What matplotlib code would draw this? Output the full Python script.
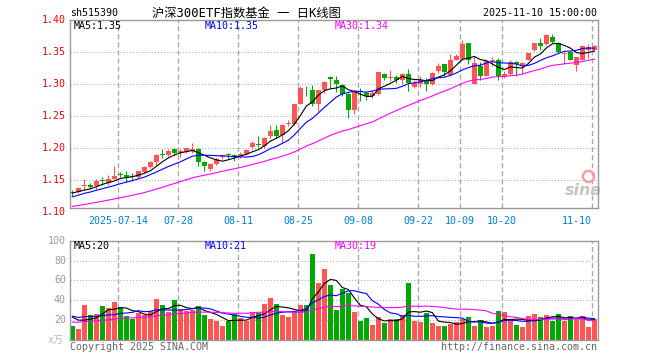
import matplotlib
matplotlib.use("Agg")
import matplotlib.pyplot as plt
import numpy as np

# ---------------------------------------------------------------------------
# Data
# ---------------------------------------------------------------------------

date_labels = ["2025-07-14", "07-28", "08-11", "08-25", "09-08",
               "09-22", "10-09", "10-20", "11-10"]
date_index = [8, 18, 28, 38, 48, 58, 65, 72, 87]

opens = [1.1300, 1.1304, 1.1398, 1.1424, 1.1398, 1.1480, 1.1450, 1.1513, 1.1581, 1.1566,
         1.1550, 1.1545, 1.1623, 1.1702, 1.1775, 1.1900, 1.1880, 1.1984, 1.1922, 1.1937,
         1.1948, 1.1984, 1.1775, 1.1670, 1.1749, 1.1859, 1.1890, 1.1895, 1.1869, 1.1911,
         1.2010, 1.2058, 1.2026, 1.2183, 1.2288, 1.2209, 1.2372, 1.2367, 1.2691, 1.2942,
         1.2901, 1.2681, 1.2916, 1.3115, 1.3073, 1.2984, 1.2848, 1.2602, 1.2885, 1.2864,
         1.2812, 1.2838, 1.3167, 1.3094, 1.3110, 1.3063, 1.3162, 1.2953, 1.3005, 1.3073,
         1.2995, 1.3204, 1.3309, 1.3141, 1.3387, 1.3390, 1.3639, 1.3005, 1.3283, 1.3136,
         1.3367, 1.3387, 1.3110, 1.3152, 1.3351, 1.3283, 1.3387, 1.3529, 1.3649, 1.3634,
         1.3743, 1.3649, 1.3466, 1.3508, 1.3298, 1.3387, 1.3544, 1.3544]
highs = [1.1330, 1.1382, 1.1513, 1.1440, 1.1503, 1.1545, 1.1581, 1.1712, 1.1618, 1.1634,
         1.1607, 1.1634, 1.1712, 1.1791, 1.1906, 1.1984, 1.1984, 1.2000, 1.1974, 1.2000,
         1.2079, 1.2000, 1.1791, 1.1764, 1.1843, 1.1895, 1.1922, 1.1911, 1.1937, 1.1984,
         1.2105, 1.2183, 1.2168, 1.2356, 1.2356, 1.2377, 1.2445, 1.2681, 1.2969, 1.2969,
         1.2984, 1.2916, 1.3047, 1.3126, 1.3126, 1.3005, 1.2864, 1.2901, 1.2942, 1.2890,
         1.2916, 1.3188, 1.3178, 1.3215, 1.3141, 1.3178, 1.3246, 1.3073, 1.3126, 1.3099,
         1.3188, 1.3335, 1.3319, 1.3476, 1.3466, 1.3686, 1.3650, 1.3440, 1.3351, 1.3372,
         1.3429, 1.3414, 1.3204, 1.3387, 1.3361, 1.3351, 1.3492, 1.3649, 1.3728, 1.3790,
         1.3790, 1.3665, 1.3497, 1.3518, 1.3424, 1.3623, 1.3634, 1.3612]
lows = [1.1241, 1.1293, 1.1335, 1.1346, 1.1346, 1.1424, 1.1424, 1.1503, 1.1545, 1.1461,
        1.1476, 1.1529, 1.1607, 1.1686, 1.1738, 1.1843, 1.1869, 1.1880, 1.1859, 1.1922,
        1.1922, 1.1712, 1.1634, 1.1634, 1.1738, 1.1817, 1.1817, 1.1801, 1.1843, 1.1895,
        1.1974, 1.2016, 1.2000, 1.2157, 1.2157, 1.2094, 1.2340, 1.2356, 1.2681, 1.2812,
        1.2655, 1.2586, 1.2864, 1.2942, 1.2880, 1.2811, 1.2471, 1.2534, 1.2733, 1.2759,
        1.2785, 1.2827, 1.3058, 1.3047, 1.3021, 1.2995, 1.2890, 1.2942, 1.2953, 1.2890,
        1.2984, 1.3178, 1.3126, 1.3126, 1.3372, 1.3387, 1.3319, 1.2995, 1.3073, 1.3126,
        1.3283, 1.3073, 1.3099, 1.3141, 1.3126, 1.3152, 1.3372, 1.3518, 1.3544, 1.3623,
        1.3649, 1.3492, 1.3319, 1.3372, 1.3204, 1.3372, 1.3414, 1.3518]
closes = [1.1293, 1.1372, 1.1424, 1.1382, 1.1476, 1.1476, 1.1513, 1.1555, 1.1576, 1.1545,
          1.1545, 1.1634, 1.1702, 1.1775, 1.1895, 1.1895, 1.1948, 1.1922, 1.1948, 1.1990,
          1.1984, 1.1775, 1.1712, 1.1754, 1.1832, 1.1880, 1.1885, 1.1853, 1.1911, 1.1963,
          1.2079, 1.2052, 1.2157, 1.2272, 1.2183, 1.2356, 1.2377, 1.2681, 1.2942, 1.2932,
          1.2681, 1.2901, 1.3037, 1.3084, 1.2995, 1.2848, 1.2602, 1.2890, 1.2880, 1.2812,
          1.2864, 1.3188, 1.3099, 1.3099, 1.3063, 1.3162, 1.3021, 1.3021, 1.3073, 1.2995,
          1.3178, 1.3293, 1.3194, 1.3387, 1.3440, 1.3634, 1.3387, 1.3330, 1.3136, 1.3361,
          1.3372, 1.3126, 1.3152, 1.3346, 1.3309, 1.3335, 1.3482, 1.3649, 1.3597, 1.3780,
          1.3665, 1.3508, 1.3492, 1.3387, 1.3424, 1.3607, 1.3581, 1.3607]
volumes = [14, 11, 35, 25, 26, 34, 32, 38, 33, 24,
           21, 27, 25, 29, 41, 35, 28, 40, 31, 29,
           30, 34, 25, 21, 19, 14, 19, 26, 22, 19,
           28, 27, 36, 42, 36, 25, 23, 28, 35, 35,
           87, 57, 71, 55, 30, 51, 47, 28, 19, 22,
           15, 23, 17, 21, 21, 25, 57, 19, 18, 27,
           17, 14, 14, 16, 18, 21, 23, 14, 20, 13,
           14, 29, 28, 19, 15, 13, 24, 26, 23, 25,
           19, 26, 19, 24, 21, 24, 13, 21]

# sessions before the visible window, only feed the moving averages
prior_closes = [1.092, 1.095, 1.090, 1.094, 1.098, 1.097, 1.101, 1.099, 1.096, 1.100,
                1.103, 1.102, 1.098, 1.104, 1.106, 1.103, 1.105, 1.108, 1.107, 1.112,
                1.110, 1.114, 1.118, 1.120, 1.123, 1.126, 1.131, 1.128, 1.131]
prior_volumes = [14, 16, 13, 17, 15, 18, 14, 12, 16, 15,
                 17, 13, 15, 16, 14, 18, 15, 13, 16, 13,
                 24, 27, 23, 26, 25, 26, 35, 20, 20]

price_ma_labels = ["1.35", "1.35", "1.34"]
vol_ma_labels = ["20", "21", "19"]

RED = "#ff5555"
GREEN = "#00a800"
GRID = "#aaaaaa"
MONO = "DejaVu Sans Mono"
FS = 7.2
W, H = 660, 360


def moving_average(prior, values, n):
    full = np.asarray(prior + values, dtype=float)
    ma = np.convolve(full, np.ones(n) / n, mode="valid")
    return ma[-len(values):]


def px_axes(fig, left, top, right, bottom):
    return fig.add_axes([left / W, 1 - bottom / H, (right - left) / W, (bottom - top) / H])


def style_panel(ax):
    for s in ax.spines.values():
        s.set_color("#999999")
        s.set_linewidth(1.0)
    ax.set_xticks([])
    ax.set_yticks([])
    ax.set_xlim(-0.4, 87.6)
    for idx in date_index:
        ax.axvline(idx - 0.4, color=GRID, lw=1.0, ls=(0, (3.6, 2.2)), zorder=0)


def ftext(x, y, s, **kw):
    kw.setdefault("family", MONO)
    kw.setdefault("fontsize", FS)
    kw.setdefault("va", "center")
    fig.text(x / W, 1 - y / H, s, **kw)


x = np.arange(len(closes))
o, h, l, c = map(np.asarray, (opens, highs, lows, closes))
colors = [RED if cc >= oo else GREEN for oo, cc in zip(o, c)]

fig = plt.figure(figsize=(W / 100, H / 100), dpi=100)

# ---------------------------------------------------------------------------
# Price panel
# ---------------------------------------------------------------------------
ax1 = px_axes(fig, 70, 20.5, 598, 208)
style_panel(ax1)
ax1.set_ylim(1.40 - 187.5 / 636.7, 1.40)
for v in [1.15, 1.20, 1.25, 1.30, 1.35]:
    ax1.axhline(v, color=GRID, lw=0.75, ls=(0, (1, 2)), zorder=0)
for v in [1.10, 1.15, 1.20, 1.25, 1.30, 1.35, 1.40]:
    ax1.text(-0.0076, v, f"{v:.2f}", transform=ax1.get_yaxis_transform(),
             ha="right", va="center", color="red", family=MONO, fontsize=FS, clip_on=False)

ax1.vlines(x, l, h, colors=colors, lw=0.75, zorder=2)
body = np.maximum(np.abs(c - o), 0.0012)
ax1.bar(x, body, bottom=np.minimum(o, c), width=0.78, color=colors, lw=0, zorder=3)

ax1.plot(x, moving_average(prior_closes, closes, 5), color="black", lw=0.8, zorder=4)
ax1.plot(x, moving_average(prior_closes, closes, 10), color="blue", lw=0.8, zorder=4)
ax1.plot(x, moving_average(prior_closes, closes, 30), color="magenta", lw=0.8, zorder=4)

for idx, lab in zip(date_index, date_labels):
    ha = "right" if idx == date_index[-1] else "center"
    ax1.text(idx - 0.4, -13 / 187.5, lab, transform=ax1.get_xaxis_transform(),
             ha=ha, va="center", color="#0080d0", family=MONO, fontsize=FS, clip_on=False)

# sina watermark
ax1.text(0.972, 0.095, "sina", transform=ax1.transAxes, ha="center", va="center",
         fontsize=11.5, fontweight="bold", style="italic", color="#c4c4c4", zorder=1)
ax1.plot([0.982], [0.17], transform=ax1.transAxes, marker="o", ms=8,
         mfc="none", mec="#f5a0a0", mew=1.8, zorder=1)

# ---------------------------------------------------------------------------
# Volume panel
# ---------------------------------------------------------------------------
ax2 = px_axes(fig, 70, 240.7, 598, 340)
style_panel(ax2)
ax2.set_ylim(0, 100)
for v in [20, 40, 60, 80]:
    ax2.axhline(v, color=GRID, lw=0.75, ls=(0, (1, 2)), zorder=0)
for v in [20, 40, 60, 80, 100]:
    ax2.text(-0.0076, v, str(v), transform=ax2.get_yaxis_transform(),
             ha="right", va="center", color="#999999", family=MONO, fontsize=FS, clip_on=False)

ax2.bar(x, volumes, width=0.78, color=colors, lw=0, zorder=2)
ax2.plot(x, moving_average(prior_volumes, volumes, 5), color="black", lw=0.8, zorder=4)
ax2.plot(x, moving_average(prior_volumes, volumes, 10), color="blue", lw=0.8, zorder=4)
ax2.plot(x, moving_average(prior_volumes, volumes, 30), color="magenta", lw=0.8, zorder=4)

# ---------------------------------------------------------------------------
# Texts
# ---------------------------------------------------------------------------
ftext(70, 13, "sh515390", ha="left")
ftext(246, 13, "沪深300ETF指数基金 一 日K线图", ha="center", fontsize=8.8,
      family=[MONO, "Noto Sans CJK SC"])
ftext(597, 13, "2025-11-10 15:00:00", ha="right")

ftext(74, 26, "MA5:" + price_ma_labels[0], ha="left", color="black")
ftext(205, 26, "MA10:" + price_ma_labels[1], ha="left", color="blue")
ftext(335, 26, "MA30:" + price_ma_labels[2], ha="left", color="magenta")

ftext(74, 246, "MA5:" + vol_ma_labels[0], ha="left", color="black")
ftext(205, 246, "MA10:" + vol_ma_labels[1], ha="left", color="blue")
ftext(335, 246, "MA30:" + vol_ma_labels[2], ha="left", color="magenta")

ftext(56, 340, "x万", ha="center", color="#bbbbbb", family=[MONO, "Noto Sans CJK SC"])
ftext(70, 347, "Copyright 2025 SINA.COM", ha="left", color="#666666")
ftext(597, 347, "http://finance.sina.com.cn", ha="right", color="#666666")

fig.savefig("out.png", dpi=100)
